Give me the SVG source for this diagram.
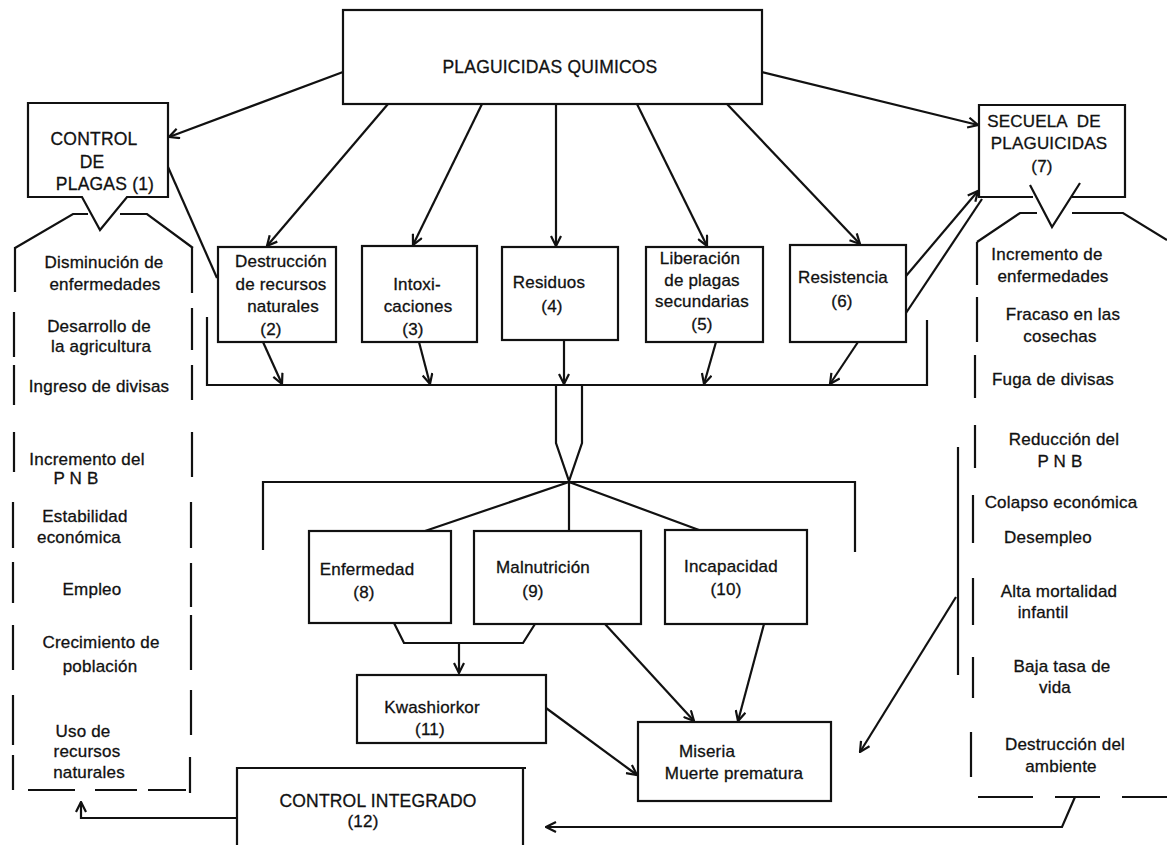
<svg xmlns="http://www.w3.org/2000/svg" width="1167" height="845" viewBox="0 0 1167 845">
<style>
.box{fill:#fff;stroke:#111;stroke-width:2.2}
.ln{fill:none;stroke:#111;stroke-width:2.2}
.t{font-family:"Liberation Sans",Arial,sans-serif;font-size:17px;fill:#111;stroke:#111;stroke-width:0.3;text-anchor:middle;letter-spacing:0.2px}
.c{font-size:17.5px}
</style>
<defs>
<marker id="ah" viewBox="0 0 12 12" refX="11" refY="6" markerWidth="12" markerHeight="12" markerUnits="userSpaceOnUse" orient="auto">
<path d="M1,1 L11,6 L1,11" fill="none" stroke="#111" stroke-width="2.2"/>
</marker>
</defs>
<rect width="1167" height="845" fill="#fff"/>

<g id="connectors" class="ln">
<path d="M343,72 L169,137" marker-end="url(#ah)"/>
<path d="M388,104 L267,246" marker-end="url(#ah)"/>
<path d="M482,104 L413,245" marker-end="url(#ah)"/>
<path d="M556,104 L556,246" marker-end="url(#ah)"/>
<path d="M637,104 L707,246" marker-end="url(#ah)"/>
<path d="M727,104 L860,244" marker-end="url(#ah)"/>
<path d="M762,72 L978,125" marker-end="url(#ah)"/>
<path d="M168,167 L217,278"/>
<path d="M906,276 L978,191" marker-end="url(#ah)"/>
<path d="M906,313 L982,199"/>
<path d="M263,342 L282,384" marker-end="url(#ah)"/>
<path d="M419,342 L430,384" marker-end="url(#ah)"/>
<path d="M564,341 L564,384" marker-end="url(#ah)"/>
<path d="M716,342 L704,384" marker-end="url(#ah)"/>
<path d="M858,342 L830,384" marker-end="url(#ah)"/>
<path d="M207,317 V385 H927 V320"/>
<path d="M556,385 V443 L569,481 L582,443 V385"/>
<path d="M263,550 V482 H855 V552"/>
<path d="M569,482 L425,531 M569,482 V531 M569,482 L699,530"/>
<path d="M394,623 L404,643 H523 L535,624"/>
<path d="M459,643 V673" marker-end="url(#ah)"/>
<path d="M605,624 L694,721" marker-end="url(#ah)"/>
<path d="M764,624 L738,721" marker-end="url(#ah)"/>
<path d="M546,708 L637,775" marker-end="url(#ah)"/>
<path d="M958,447 V675"/>
<path d="M956,597 L860,752" marker-end="url(#ah)"/>
<path d="M1075,797 L1062,827 H546" marker-end="url(#ah)"/>
<path d="M237,818 H81 V802" marker-end="url(#ah)"/>
</g>

<g id="plaguicidas">
<rect class="box" x="343" y="10" width="419" height="94"/>
<text class="t c" x="550" y="73">PLAGUICIDAS QUIMICOS</text>
</g>

<g id="control-plagas">
<path class="box" d="M82,197 H28 V103 H168 V197 H127 L100,230 Z"/>
<text class="t c" x="94" y="145">CONTROL</text>
<text class="t c" x="92" y="168">DE</text>
<text class="t c" x="105" y="190">PLAGAS (1)</text>
</g>

<g id="beneficios">
<path class="ln" d="M15,248 L73,214 H88 M120,214 H147 L193,248"/>
<path class="ln" d="M15,247 V292 M14,312 V357 M14,365 V405 M14,432 V472 M13,502 V548 M13,562 V603 M13,625 V670 M13,695 V745 M13,755 V790 M28,790 H75 M95,790 H137 M148,790 H186 M192,248 V293 M192,308 V350 M192,365 V400 M192,432 V477 M191,502 V548 M191,563 V607 M191,615 V670 M191,690 V735 M190,757 V793"/>
<text class="t" x="104" y="268">Disminución de</text>
<text class="t" x="105" y="290">enfermedades</text>
<text class="t" x="99" y="332">Desarrollo de</text>
<text class="t" x="101" y="352">la agricultura</text>
<text class="t" x="99" y="392">Ingreso de divisas</text>
<text class="t" x="87" y="465">Incremento del</text>
<text class="t" x="76" y="484">P N B</text>
<text class="t" x="85" y="522">Estabilidad</text>
<text class="t" x="79" y="543">económica</text>
<text class="t" x="92" y="595">Empleo</text>
<text class="t" x="101" y="648">Crecimiento de</text>
<text class="t" x="100" y="672">población</text>
<text class="t" x="83" y="737">Uso de</text>
<text class="t" x="87" y="757">recursos</text>
<text class="t" x="89" y="778">naturales</text>
</g>

<g id="destruccion">
<rect class="box" x="218" y="247" width="118" height="95"/>
<text class="t" x="281" y="267">Destrucción</text>
<text class="t" x="281" y="290">de recursos</text>
<text class="t" x="283" y="312">naturales</text>
<text class="t" x="271" y="335">(2)</text>
</g>

<g id="intoxicaciones">
<rect class="box" x="362" y="246" width="115" height="96"/>
<text class="t" x="417" y="290">Intoxi-</text>
<text class="t" x="418" y="312">caciones</text>
<text class="t" x="413" y="335">(3)</text>
</g>

<g id="residuos">
<rect class="box" x="502" y="247" width="116" height="93"/>
<text class="t" x="549" y="288">Residuos</text>
<text class="t" x="552" y="312">(4)</text>
</g>

<g id="liberacion">
<rect class="box" x="646" y="247" width="117" height="95"/>
<text class="t" x="700" y="264">Liberación</text>
<text class="t" x="702" y="286">de plagas</text>
<text class="t" x="702" y="307">secundarias</text>
<text class="t" x="702" y="330">(5)</text>
</g>

<g id="resistencia">
<rect class="box" x="790" y="245" width="116" height="97"/>
<text class="t" x="843" y="283">Resistencia</text>
<text class="t" x="842" y="307">(6)</text>
</g>

<g id="secuela">
<path class="box" d="M1033,197 H979 V105 H1125 V197 H1072"/>
<path class="ln" d="M1030,185 L1052,227 L1080,183"/>
<text class="t" x="1044" y="127" xml:space="preserve">SECUELA  DE</text>
<text class="t" x="1049" y="149">PLAGUICIDAS</text>
<text class="t" x="1042" y="172">(7)</text>
</g>

<g id="consecuencias">
<path class="ln" d="M977,242 L1020,213 H1037 M1072,213 H1123 L1167,240"/>
<path class="ln" d="M977,242 V285 M977,297 V342 M975,355 V398 M975,425 V468 M973,495 V543 M973,578 V625 M973,657 V698 M971,732 V777 M978,797 H1033 M1055,797 H1100 M1122,797 H1167"/>
<text class="t" x="1047" y="260">Incremento de</text>
<text class="t" x="1053" y="282">enfermedades</text>
<text class="t" x="1063" y="320">Fracaso en las</text>
<text class="t" x="1060" y="342">cosechas</text>
<text class="t" x="1053" y="385">Fuga de divisas</text>
<text class="t" x="1064" y="445">Reducción del</text>
<text class="t" x="1060" y="467">P N B</text>
<text class="t" x="1061" y="508">Colapso económica</text>
<text class="t" x="1048" y="543">Desempleo</text>
<text class="t" x="1059" y="597">Alta mortalidad</text>
<text class="t" x="1043" y="618">infantil</text>
<text class="t" x="1062" y="672">Baja tasa de</text>
<text class="t" x="1055" y="693">vida</text>
<text class="t" x="1065" y="750">Destrucción del</text>
<text class="t" x="1061" y="772">ambiente</text>
</g>

<g id="enfermedad">
<rect class="box" x="309" y="531" width="142" height="92"/>
<text class="t" x="367" y="575">Enfermedad</text>
<text class="t" x="364" y="598">(8)</text>
</g>

<g id="malnutricion">
<rect class="box" x="474" y="531" width="167" height="93"/>
<text class="t" x="543" y="573">Malnutrición</text>
<text class="t" x="533" y="597">(9)</text>
</g>

<g id="incapacidad">
<rect class="box" x="665" y="530" width="142" height="94"/>
<text class="t" x="731" y="572">Incapacidad</text>
<text class="t" x="726" y="595">(10)</text>
</g>

<g id="kwashiorkor">
<rect class="box" x="357" y="675" width="189" height="68"/>
<text class="t" x="432" y="713">Kwashiorkor</text>
<text class="t" x="430" y="735">(11)</text>
</g>

<g id="miseria">
<rect class="box" x="638" y="722" width="193" height="79"/>
<text class="t" x="707" y="757">Miseria</text>
<text class="t" x="734" y="779">Muerte prematura</text>
</g>

<g id="control-integrado">
<path class="box" d="M237,845 V768 H526 M523,768 V845"/>
<text class="t c" x="378" y="807">CONTROL INTEGRADO</text>
<text class="t" x="363" y="827">(12)</text>
</g>
</svg>
